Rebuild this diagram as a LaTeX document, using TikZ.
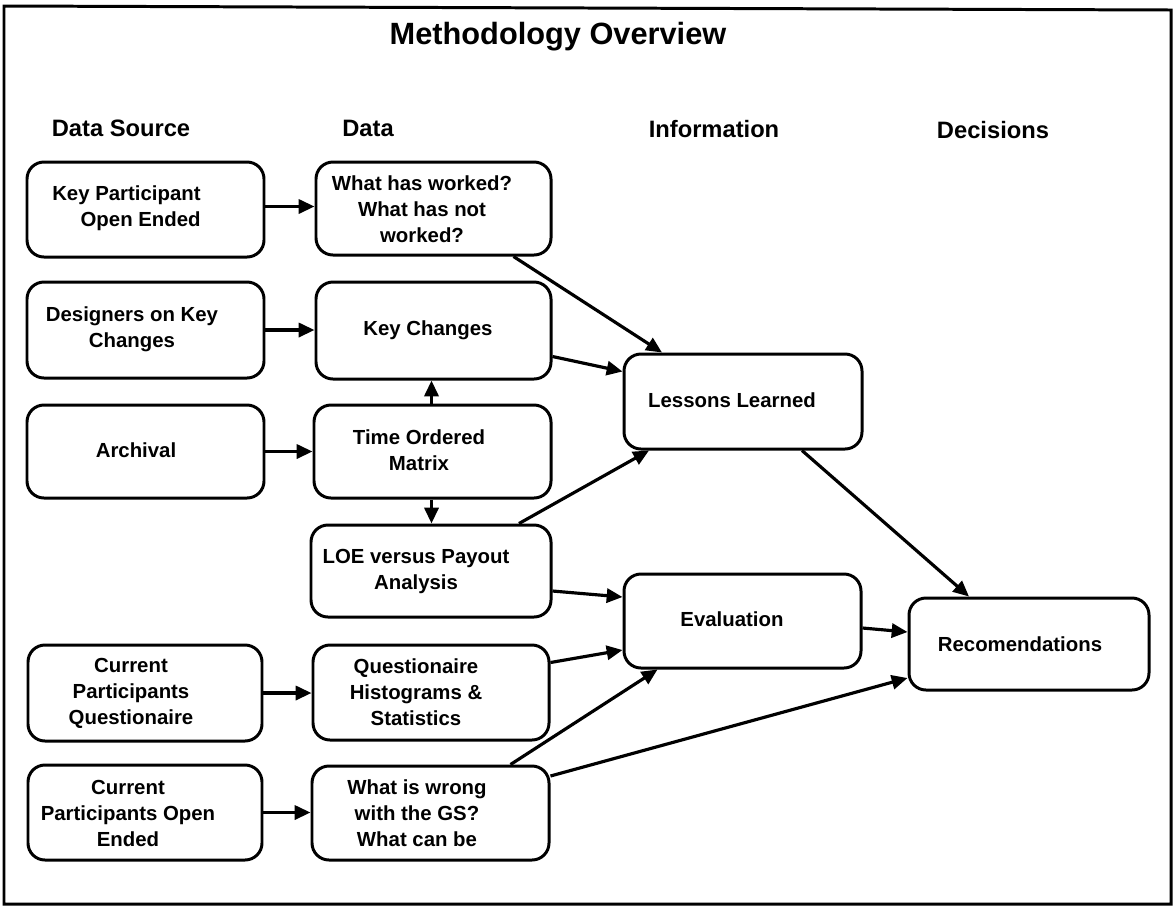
\documentclass[tikz,border=0pt]{standalone}
\usepackage{fontspec}
\setmainfont{Liberation Sans}
\usetikzlibrary{arrows.meta,fit,calc}
\begin{document}
\begin{tikzpicture}[x=0.02cm,y=-0.02cm,
  box/.style={draw, line width=1.7pt, rounded corners=0.34cm, inner sep=0pt},
  lbl/.style={font=\fontsize{11.6}{14.8}\selectfont\bfseries, align=center, inner sep=0pt},
  head/.style={font=\fontsize{13.5}{16}\selectfont\bfseries, inner sep=0pt},
  arr/.style={line width=1.8pt, -{Triangle[length=9pt,width=8pt]}}
]
\useasboundingbox (0,0) rectangle (1176,907);
% outer frame
\draw[line width=1.7pt] (4,6) -- (1171,10) -- (1171,904) -- (4,904) -- cycle;

% title and column headings
\node[font=\fontsize{17.5}{20}\selectfont\bfseries, inner sep=0pt] (title) at (558,37) {Methodology Overview};
\node[head] (h1) at (121,128) {Data Source};
\node[head] (h2) at (368,128) {Data};
\node[head] (h3) at (714,129) {Information};
\node[head] (h4) at (993,130) {Decisions};

% data sources
\node[box, fit={(27,162) (264,257)}] (kp) {};
\node[box, fit={(27,282) (264,378)}] (des) {};
\node[box, fit={(27,405) (264,498)}] (arc) {};
\node[box, fit={(28,645) (262,741)}] (cpq) {};
\node[box, fit={(28,765) (262,860)}] (cpo) {};

% data
\node[box, fit={(316,162) (551,255)}] (whw) {};
\node[box, fit={(316,282) (551,379)}] (kc) {};
\node[box, fit={(314,405) (551,498)}] (tom) {};
\node[box, fit={(311,525) (551,617)}] (loe) {};
\node[box, fit={(313,645) (549,740)}] (qhs) {};
\node[box, fit={(312,766) (549,860)}] (wiw) {};

% information and decisions
\node[box, fit={(624,354) (862,449)}] (ll) {};
\node[box, fit={(624,574) (861,668)}] (ev) {};
\node[box, fit={(909,598) (1149,690)}] (rec) {};

% box texts
\node[lbl, align=right, anchor=east] (kp-t) at (201,208.5) {Key Participant\\Open Ended};
\node[lbl] (des-t) at (132,329) {Designers on Key\\Changes};
\node[lbl] (arc-t) at (136,450) {Archival};
\node[lbl] (cpq-t) at (131,693) {Current\\Participants\\Questionaire};
\node[lbl] (cpo-t) at (128,813) {Current\\Participants Open\\Ended};
\node[lbl] (whw-t) at (422,209) {What has worked?\\What has not\\worked?};
\node[lbl] (kc-t) at (428,330) {Key Changes};
\node[lbl] (tom-t) at (419,450) {Time Ordered\\Matrix};
\node[lbl] (loe-t) at (416,571) {LOE versus Payout\\Analysis};
\node[lbl] (qhs-t) at (416,692) {Questionaire\\Histograms \&\\Statistics};
\node[lbl] (wiw-t) at (417,813) {What is wrong\\with the GS?\\What can be};
\node[lbl] (ll-t) at (732,400) {Lessons Learned};
\node[lbl] (ev-t) at (732,619) {Evaluation};
\node[lbl] (rec-t) at (1020,644) {Recomendations};

% source to data
\draw[arr] ($(kp.east)+(0,-3)$) -- ($(kp.east -| whw.west)+(0,-3)$);
\draw[arr] (des.east) -- (des.east -| kc.west);
\draw[arr] (arc.east) -- (arc.east -| tom.west);
\draw[arr] (cpq.east) -- (cpq.east -| qhs.west);
\draw[arr] (cpo.east) -- (cpo.east -| wiw.west);
\draw[arr] ($(tom.north)+(-1,0)$) -- ($(tom.north |- kc.south)+(-1,0)$);
\draw[arr] ($(tom.south)+(-1,0)$) -- ($(tom.south |- loe.north)+(-1,0)$);

% data to information
\draw[arr] ($(whw.south)+(80,0)$) -- ($(ll.north)+(-81,0)$);
\draw[arr] ($(kc.east)+(0,26)$) -- ($(ll.west)+(0,-30)$);
\draw[arr] ($(loe.north)+(88,0)$) -- ($(ll.south)+(-94,0)$);
\draw[arr] ($(loe.east)+(0,20)$) -- ($(ev.west)+(0,-24)$);
\draw[arr] ($(qhs.east)+(0,-30)$) -- ($(ev.west)+(0,29)$);
\draw[arr] ($(wiw.north)+(80,0)$) -- ($(ev.south)+(-85,0)$);

% information to decisions
\draw[arr] ($(ll.south)+(59,0)$) -- ($(rec.north)+(-60,0)$);
\draw[arr] ($(ev.east)+(0,7)$) -- ($(rec.west)+(0,-12)$);
\draw[arr] ($(wiw.east)+(0,-37)$) -- ($(rec.west)+(0,34)$);
\end{tikzpicture}
\end{document}
